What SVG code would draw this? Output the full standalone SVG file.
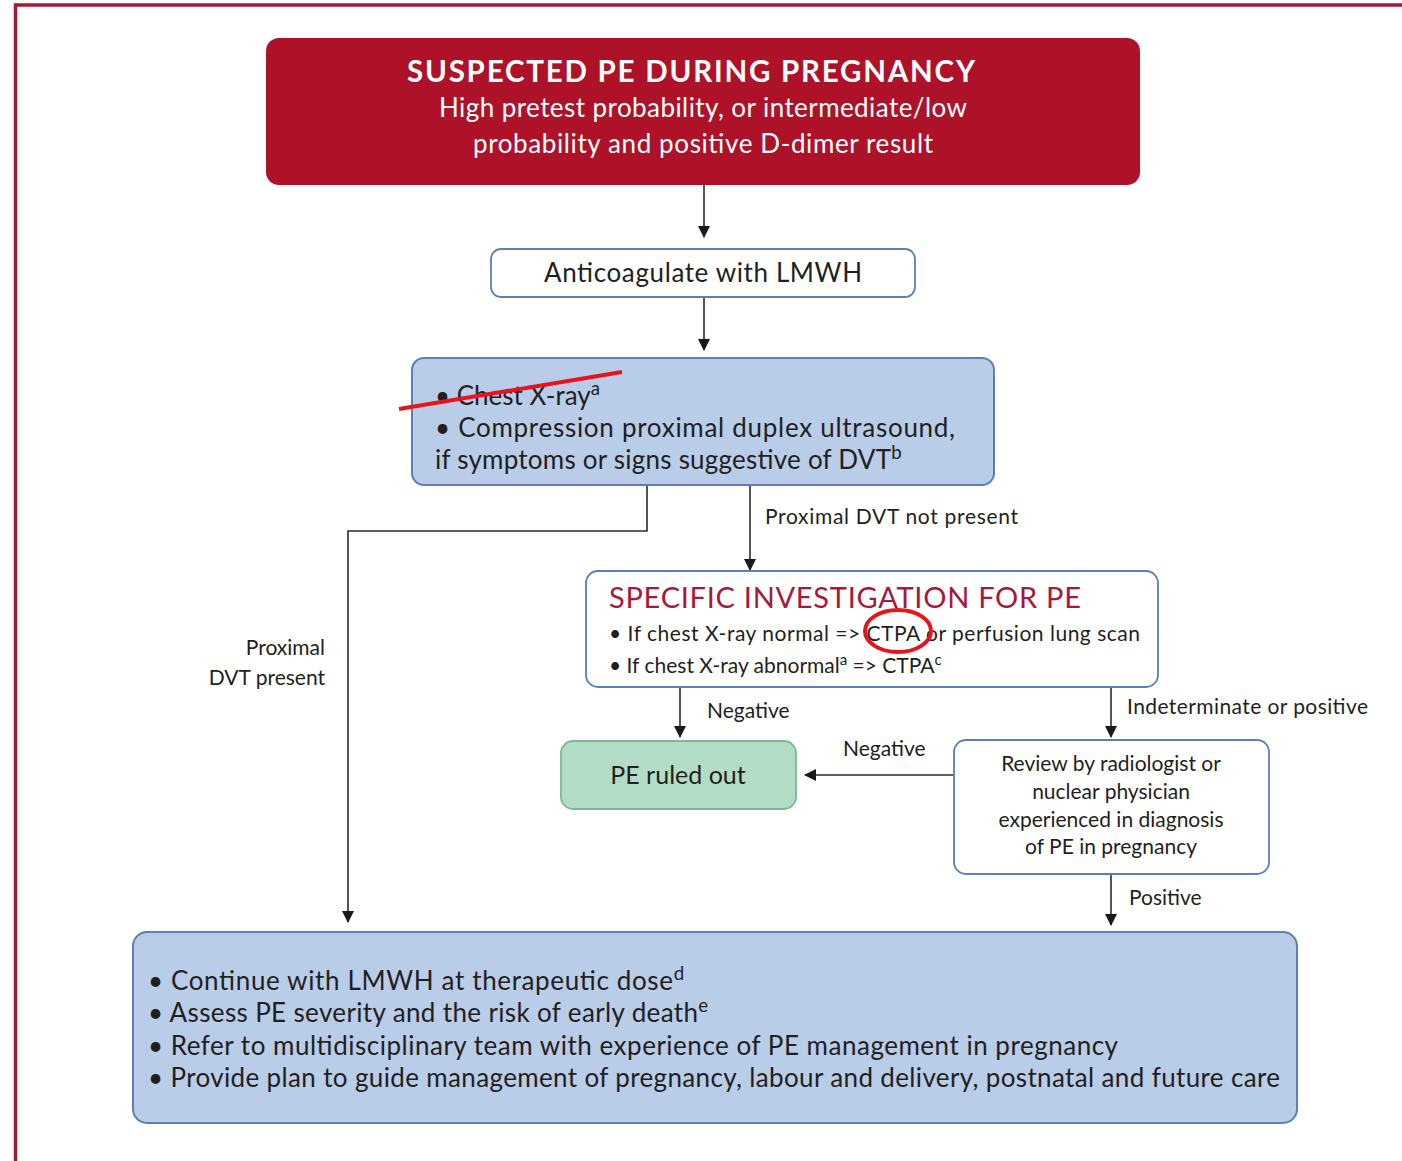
<svg xmlns="http://www.w3.org/2000/svg" width="1402" height="1161" viewBox="0 0 1402 1161">
<defs>
<style>
text{font-family:Lato,"Liberation Sans",sans-serif;fill:#231f20}
.wb{fill:#fff;font-weight:bold}
.w{fill:#fff}
.blue{fill:#b9cde8;stroke:#5a80b6;stroke-width:2}
.white{fill:#fff;stroke:#5a80b6;stroke-width:1.8}
.green{fill:#b2dcc6;stroke:#7ab89a;stroke-width:1.8}
.conn{fill:none;stroke:#2b2b2b;stroke-width:1.6}
.lbl{font-size:21px}
.sup{font-size:72%}
.mark{fill:none;stroke:#e8141c;stroke-width:4}
</style>
<marker id="ah" markerUnits="userSpaceOnUse" markerWidth="12" markerHeight="16" refX="11" refY="6" orient="auto">
<path d="M0,0 L12,6 L0,12 Z" fill="#1a1a1a"/>
</marker>
</defs>
<rect x="0" y="0" width="1402" height="1161" fill="#fff"/>
<path d="M15.5,1161 V5 H1402" fill="none" stroke="#a31a35" stroke-width="3.5"/>

<g id="connectors">
<line class="conn" x1="704" y1="185" x2="704" y2="237" marker-end="url(#ah)"/>
<line class="conn" x1="704" y1="297" x2="704" y2="350" marker-end="url(#ah)"/>
<path class="conn" d="M647,485 V531 H348 V922" marker-end="url(#ah)"/>
<line class="conn" x1="750" y1="485" x2="750" y2="570" marker-end="url(#ah)"/>
<line class="conn" x1="680" y1="687" x2="680" y2="737" marker-end="url(#ah)"/>
<line class="conn" x1="1111" y1="687" x2="1111" y2="737" marker-end="url(#ah)"/>
<line class="conn" x1="954" y1="775" x2="805" y2="775" marker-end="url(#ah)"/>
<line class="conn" x1="1111" y1="874" x2="1111" y2="925" marker-end="url(#ah)"/>
<text class="lbl" x="765" y="524" textLength="253">Proximal DVT not present</text>
<text class="lbl" x="325" y="655" text-anchor="end">Proximal</text>
<text class="lbl" x="325" y="685" text-anchor="end">DVT present</text>
<text class="lbl" x="707" y="718">Negative</text>
<text class="lbl" x="1127" y="714" textLength="241">Indeterminate or positive</text>
<text class="lbl" x="843" y="756">Negative</text>
<text class="lbl" x="1129" y="905">Positive</text>
</g>

<g id="suspected">
<rect x="266" y="38" width="874" height="147" rx="13" fill="#ae1229"/>
<text class="wb" x="691" y="82" font-size="29.5" text-anchor="middle" textLength="568">SUSPECTED PE DURING PREGNANCY</text>
<text class="w" x="703" y="117" font-size="26" text-anchor="middle" textLength="528">High pretest probability, or intermediate/low</text>
<text class="w" x="703" y="153" font-size="26" text-anchor="middle" textLength="460">probability and positive D-dimer result</text>
</g>

<g id="anticoagulate">
<rect class="white" x="491" y="249" width="424" height="48" rx="10"/>
<text x="703" y="282" font-size="26" text-anchor="middle" textLength="318">Anticoagulate with LMWH</text>
</g>

<g id="initial-tests">
<rect class="blue" x="412" y="358" width="582" height="127" rx="12"/>
<text x="435" y="405" font-size="26">• Chest X-ray<tspan class="sup" dy="-10">a</tspan></text>
<text x="435" y="437" font-size="26" textLength="520">• Compression proximal duplex ultrasound,</text>
<text x="435" y="469" font-size="26"><tspan textLength="456">if symptoms or signs suggestive of DVT</tspan><tspan class="sup" dy="-10">b</tspan></text>
<line class="mark" x1="399" y1="409" x2="622" y2="372"/>
</g>

<g id="specific">
<rect class="white" x="586" y="571" width="572" height="116" rx="12"/>
<text x="609" y="608" font-size="29" style="fill:#a8183a" textLength="472">SPECIFIC INVESTIGATION FOR PE</text>
<text x="609" y="641" font-size="21" textLength="531">• If chest X-ray normal =&gt; CTPA or perfusion lung scan</text>
<text x="609" y="673" font-size="21">• If chest X-ray abnormal<tspan class="sup" dy="-8">a</tspan><tspan dy="8"> =&gt; CTPA</tspan><tspan class="sup" dy="-8">c</tspan></text>
<ellipse class="mark" cx="898" cy="631" rx="33" ry="21"/>
</g>

<g id="ruled-out">
<rect class="green" x="561" y="741" width="235" height="68" rx="12"/>
<text x="678" y="784" font-size="25" text-anchor="middle">PE ruled out</text>
</g>

<g id="review">
<rect class="white" x="954" y="740" width="315" height="134" rx="12"/>
<text x="1111" y="771" font-size="21" text-anchor="middle">Review by radiologist or</text>
<text x="1111" y="799" font-size="21" text-anchor="middle">nuclear physician</text>
<text x="1111" y="827" font-size="21" text-anchor="middle">experienced in diagnosis</text>
<text x="1111" y="854" font-size="21" text-anchor="middle">of PE in pregnancy</text>
</g>

<g id="management">
<rect class="blue" x="133" y="932" width="1164" height="191" rx="14"/>
<text x="148" y="990" font-size="26"><tspan textLength="525">• Continue with LMWH at therapeutic dose</tspan><tspan class="sup" dy="-10">d</tspan></text>
<text x="148" y="1022" font-size="26"><tspan textLength="550">• Assess PE severity and the risk of early death</tspan><tspan class="sup" dy="-10">e</tspan></text>
<text x="148" y="1055" font-size="26" textLength="970">• Refer to multidisciplinary team with experience of PE management in pregnancy</text>
<text x="148" y="1087" font-size="26" textLength="1132">• Provide plan to guide management of pregnancy, labour and delivery, postnatal and future care</text>
</g>
</svg>
